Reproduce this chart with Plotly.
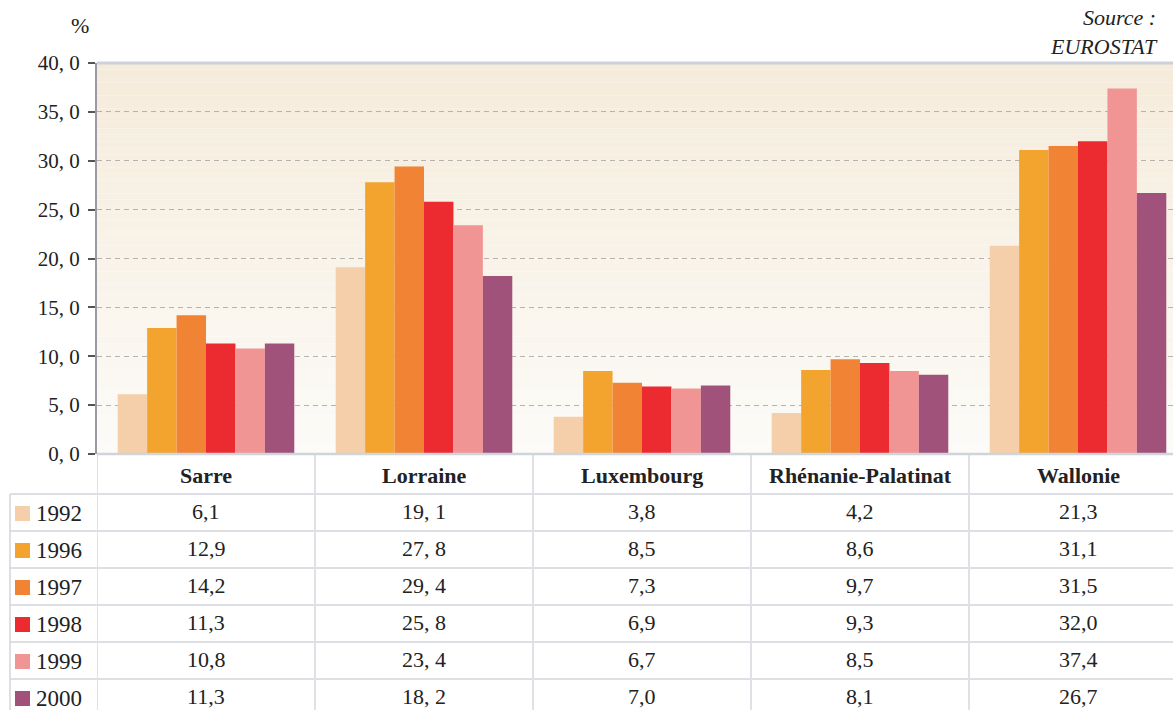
import plotly.graph_objects as go

regions = ["Sarre", "Lorraine", "Luxembourg", "Rhénanie-Palatinat", "Wallonie"]
years = ["1992", "1996", "1997", "1998", "1999", "2000"]
v1992 = [6.1, 19.1, 3.8, 4.2, 21.3]
v1996 = [12.9, 27.8, 8.5, 8.6, 31.1]
v1997 = [14.2, 29.4, 7.3, 9.7, 31.5]
v1998 = [11.3, 25.8, 6.9, 9.3, 32.0]
v1999 = [10.8, 23.4, 6.7, 8.5, 37.4]
v2000 = [11.3, 18.2, 7.0, 8.1, 26.7]
series = [v1992, v1996, v1997, v1998, v1999, v2000]
tick_vals = [0, 5, 10, 15, 20, 25, 30, 35, 40]
tick_text = ["0, 0", "5, 0", "10, 0", "15, 0", "20, 0", "25, 0", "30, 0", "35, 0", "40, 0"]

colors = ["#F5CFA9", "#F3A42E", "#F08434", "#EC2B30", "#F19594", "#A0527A"]

W, H = 1173, 710
FONT = "'Liberation Serif', 'Times New Roman', 'DejaVu Serif', serif"
TXT = "#222222"


def py(p):  # pixel y -> paper y
    return 1 - p / H


def px(p):
    return p / W


x_left, x_right = 97, 1173
y_top, y_bot = 63, 454
col_w = 218
x_max = (x_right - x_left) / col_w - 0.5

fig = go.Figure()
xi = list(range(len(regions)))
for yr, vals, c in zip(years, series, colors):
    fig.add_trace(go.Bar(x=xi, y=vals, name=yr, marker=dict(color=c, line=dict(width=0)),
                         showlegend=False, hoverinfo="x+y"))

shapes = []
# gradient background
n = 60
top_rgb = (245, 235, 218)
bot_rgb = (252, 251, 248)
for i in range(n):
    t = i / (n - 1)
    r = round(top_rgb[0] + (bot_rgb[0] - top_rgb[0]) * t)
    g = round(top_rgb[1] + (bot_rgb[1] - top_rgb[1]) * t)
    b = round(top_rgb[2] + (bot_rgb[2] - top_rgb[2]) * t)
    shapes.append(dict(type="rect", xref="x domain", yref="y domain", x0=0, x1=1,
                       y0=1 - (i + 1) / n, y1=1 - i / n, fillcolor=f"rgb({r},{g},{b})",
                       line=dict(width=0), layer="below"))
# top border line
shapes.append(dict(type="line", xref="x domain", yref="y domain", x0=0, x1=1, y0=1, y1=1,
                   line=dict(color="#CDD2DA", width=3), layer="below"))

# table lines
line_c = "#D3D5DC"
row_lines = [494, 531, 568, 605, 642, 679]
for yl in row_lines:
    shapes.append(dict(type="line", xref="paper", yref="paper", x0=px(10), x1=1,
                       y0=py(yl), y1=py(yl), line=dict(color=line_c, width=1.5)))
shapes.append(dict(type="line", xref="paper", yref="paper", x0=px(10), x1=px(10),
                   y0=py(494), y1=0, line=dict(color=line_c, width=1.5)))
for i in range(len(regions)):
    shapes.append(dict(type="line", xref="x", yref="paper", x0=i - 0.5, x1=i - 0.5,
                       y0=py(455), y1=0, line=dict(color="#E0E1E6", width=2)))
# x axis bottom line
shapes.append(dict(type="line", xref="x domain", yref="y domain", x0=0, x1=1, y0=0, y1=0,
                   line=dict(color="#D0D4DC", width=2.5)))

annotations = []
# header
for i, reg in enumerate(regions):
    annotations.append(dict(x=i, y=py(475), xref="x", yref="paper", text=f"<b>{reg}</b>",
                            showarrow=False, yanchor="middle", xanchor="center",
                            font=dict(family=FONT, size=22, color=TXT)))
# rows
for r, (yr, vals, c) in enumerate(zip(years, series, colors)):
    cy = row_lines[r] + 19
    shapes.append(dict(type="rect", xref="paper", yref="paper", x0=px(15), x1=px(30),
                       y0=py(cy + 8), y1=py(cy - 7), fillcolor=c, line=dict(width=0)))
    annotations.append(dict(x=px(34), y=py(cy), xref="paper", yref="paper", text=yr,
                            xanchor="left", yanchor="middle", showarrow=False,
                            font=dict(family=FONT, size=23, color=TXT)))
    for i, v in enumerate(vals):
        sep = ", " if regions[i] == "Lorraine" else ","
        txt = f"{v:.1f}".replace(".", sep)
        annotations.append(dict(x=i, y=py(cy - 2), xref="x", yref="paper", text=txt,
                                showarrow=False, xanchor="center", yanchor="middle",
                                font=dict(family=FONT, size=22, color=TXT)))

annotations.append(dict(x=px(80), y=py(26), xref="paper", yref="paper", text="%",
                        showarrow=False, xanchor="center", yanchor="middle",
                        font=dict(family=FONT, size=22, color=TXT)))
annotations.append(dict(x=px(1160), y=py(32), xref="paper", yref="paper",
                        text="<i>Source :</i><br><i>EUROSTAT</i>", align="right",
                        xanchor="right", yanchor="middle", showarrow=False,
                        font=dict(family=FONT, size=22, color=TXT)))

fig.update_layout(
    width=W, height=H,
    margin=dict(l=0, r=0, t=0, b=0, autoexpand=False),
    paper_bgcolor="white", plot_bgcolor="rgba(0,0,0,0)",
    barmode="group", bargap=0.19, bargroupgap=0,
    font=dict(family=FONT, size=20, color=TXT),
    xaxis=dict(domain=[px(x_left), 1], range=[-0.5, x_max], showticklabels=False,
               showgrid=False, zeroline=False, showline=False, ticks="", automargin=False),
    yaxis=dict(domain=[py(y_bot), py(y_top)], range=[0, 40], tickvals=tick_vals,
               ticktext=tick_text, ticks="outside", ticklen=7, tickcolor="#555555",
               tickwidth=1.5, showline=True, linecolor="#9A9AA5", linewidth=2,
               showgrid=True, gridcolor="#B8B2AC", griddash="5px,4px", gridwidth=1.2,
               zeroline=False, tickfont=dict(family=FONT, size=21, color=TXT),
               ticklabelstandoff=4, automargin=False),
    shapes=shapes, annotations=annotations,
)

fig.write_html("out.html", config={"displayModeBar": False},
               post_script="document.body.style.margin='0';document.body.style.overflow='hidden';")
